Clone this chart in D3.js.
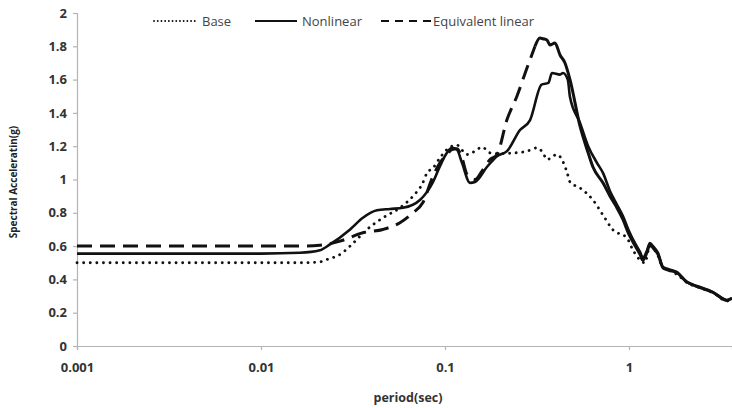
<!DOCTYPE html>
<meta charset="utf-8">
<script src="https://cdn.jsdelivr.net/npm/d3@7"></script>
<style>
  body { margin: 0; background: #fff; }
  text { font-family: "Open Sans", "Liberation Sans", sans-serif; }
</style>
<div id="chart"></div>
<script>

// period (sec) and spectral acceleration (g)
var basePeriod = [0.001, 0.005, 0.01, 0.0163, 0.0209, 0.0229, 0.0269, 0.0305, 0.0377, 0.046, 0.0569, 0.067, 0.0757, 0.0798, 0.0861, 0.0939, 0.1025, 0.116, 0.1317, 0.1456, 0.1589, 0.1757, 0.1918, 0.234, 0.279, 0.316, 0.341, 0.358, 0.406, 0.46, 0.478, 0.542, 0.637, 0.722, 0.819, 0.975, 1.05, 1.148, 1.22, 1.30, 1.44, 1.53, 1.65, 1.82, 2.07, 2.43, 2.86, 3.41, 3.63]
var baseSa = [0.5, 0.5, 0.5, 0.5, 0.505, 0.52, 0.55, 0.6, 0.7, 0.77, 0.83, 0.9, 0.979, 1.039, 1.069, 1.13, 1.18, 1.207, 1.15, 1.17, 1.195, 1.16, 1.155, 1.159, 1.17, 1.19, 1.16, 1.12, 1.15, 1.045, 0.985, 0.949, 0.877, 0.787, 0.697, 0.649, 0.577, 0.517, 0.50, 0.60, 0.54, 0.47, 0.455, 0.43, 0.38, 0.35, 0.32, 0.27, 0.285]

var nonPeriod = [0.001, 0.01, 0.0163, 0.0209, 0.0237, 0.0305, 0.0358, 0.0427, 0.0502, 0.0591, 0.0731, 0.0861, 0.0939, 0.1025, 0.109, 0.116, 0.1237, 0.1368, 0.1456, 0.169, 0.1918, 0.2173, 0.2556, 0.29, 0.335, 0.365, 0.381, 0.422, 0.438, 0.465, 0.478, 0.542, 0.60, 0.67, 0.722, 0.789, 0.85, 0.927, 1.0, 1.051, 1.148, 1.19, 1.25, 1.30, 1.35, 1.438, 1.53, 1.65, 1.824, 2.066, 2.2, 2.43, 2.86, 3.41, 3.63]
var nonSa = [0.555, 0.555, 0.56, 0.575, 0.61, 0.70, 0.77, 0.815, 0.823, 0.83, 0.877, 0.985, 1.08, 1.16, 1.19, 1.18, 1.10, 0.98, 0.985, 1.075, 1.14, 1.17, 1.297, 1.357, 1.57, 1.58, 1.64, 1.63, 1.64, 1.60, 1.495, 1.34, 1.20, 1.10, 1.04, 0.93, 0.86, 0.78, 0.69, 0.64, 0.565, 0.53, 0.57, 0.619, 0.60, 0.559, 0.474, 0.46, 0.444, 0.384, 0.37, 0.354, 0.324, 0.276, 0.288]

var eqPeriod = [0.001, 0.01, 0.0163, 0.0209, 0.0269, 0.0358, 0.046, 0.0569, 0.067, 0.0757, 0.0861, 0.0939, 0.1025, 0.109, 0.116, 0.1237, 0.1317, 0.1456, 0.1589, 0.1757, 0.1918, 0.2173, 0.246, 0.279, 0.3085, 0.328, 0.341, 0.358, 0.372, 0.396, 0.422, 0.449, 0.478, 0.542, 0.60, 0.637, 0.722, 0.789, 0.85, 0.927, 1.0, 1.051, 1.148, 1.19, 1.25, 1.30, 1.35, 1.438, 1.53, 1.65, 1.824, 2.066, 2.2, 2.43, 2.86, 3.41, 3.63]
var eqSa = [0.6, 0.6, 0.6, 0.605, 0.63, 0.68, 0.70, 0.74, 0.80, 0.86, 1.02, 1.10, 1.15, 1.18, 1.185, 1.13, 1.03, 1.00, 1.05, 1.12, 1.15, 1.36, 1.50, 1.67, 1.80, 1.85, 1.845, 1.838, 1.808, 1.82, 1.748, 1.70, 1.60, 1.32, 1.16, 1.075, 0.98, 0.90, 0.84, 0.76, 0.67, 0.625, 0.55, 0.515, 0.56, 0.61, 0.59, 0.55, 0.47, 0.455, 0.44, 0.384, 0.37, 0.35, 0.322, 0.274, 0.286]

var xTicks = [0.001, 0.01, 0.1, 1]
var yTicks = [0, 0.2, 0.4, 0.6, 0.8, 1, 1.2, 1.4, 1.6, 1.8, 2]

var width = 732, height = 408
var svg = d3.select("#chart").append("svg")
  .attr("width", width)
  .attr("height", height)

var x = d3.scaleLog().domain([0.001, 3.63]).range([77, 732])
var y = d3.scaleLinear().domain([0, 2]).range([346, 13])

function pairs(p, v) { return p.map(function(d, i){ return [d, v[i]] }) }

// axes
var yAxis = svg.append("g")
  .attr("transform", "translate(77,0)")
  .call(d3.axisLeft(y).tickValues(yTicks).tickSize(4).tickPadding(6)
    .tickFormat(function(d){ return d3.format("~g")(d) }))
var xAxis = svg.append("g")
  .attr("transform", "translate(0,346)")
  .call(d3.axisBottom(x).tickValues(xTicks).tickSize(4).tickPadding(13)
    .tickFormat(function(d){ return d3.format("~g")(d) }))

svg.selectAll(".domain, .tick line").attr("stroke", "#b4b4b4").attr("stroke-width", 1.2)
svg.selectAll(".tick text")
  .attr("font-family", "'Open Sans', 'Liberation Sans', sans-serif")
  .attr("font-size", 13)
  .attr("font-weight", "bold")
  .attr("fill", "#333")

// axis titles
svg.append("text")
  .attr("x", 408).attr("y", 402)
  .attr("text-anchor", "middle")
  .attr("font-size", 12.5).attr("font-weight", "bold").attr("fill", "#333")
  .text("period(sec)")
svg.append("text")
  .attr("transform", "translate(17,182) rotate(-90)")
  .attr("text-anchor", "middle")
  .attr("font-size", 10).attr("font-weight", "bold").attr("fill", "#222")
  .text("Spectral Acceleratin(g)")

// lines
var line = d3.line()
  .x(function(d){ return x(d[0]) })
  .y(function(d){ return y(d[1]) })
  .curve(d3.curveMonotoneX)

var plot = svg.append("g")

plot.append("path")
  .datum(pairs(basePeriod, baseSa))
  .attr("d", line)
  .attr("fill", "none").attr("stroke", "#111")
  .attr("stroke-width", 2.8)
  .attr("stroke-linecap", "round")
  .attr("stroke-dasharray", "0.1,6.5")

var eq = pairs(eqPeriod, eqSa)
plot.append("path")
  .datum(eq.filter(function(d){ return d[0] <= 0.3085 }))
  .attr("d", line)
  .attr("fill", "none").attr("stroke", "#111")
  .attr("stroke-width", 3)
  .attr("stroke-dasharray", "15,8")
plot.append("path")
  .datum(eq.filter(function(d){ return d[0] >= 0.3085 }))
  .attr("d", line)
  .attr("fill", "none").attr("stroke", "#111")
  .attr("stroke-width", 3)

plot.append("path")
  .datum(pairs(nonPeriod, nonSa))
  .attr("d", line)
  .attr("fill", "none").attr("stroke", "#111")
  .attr("stroke-width", 2.6)

// legend
var legendItems = [
  {name: "Base", x1: 154, x2: 197, tx: 202, dash: "0.1,3.6", w: 1.8, cap: "round"},
  {name: "Nonlinear", x1: 255, x2: 297, tx: 302, dash: null, w: 2, cap: "butt"},
  {name: "Equivalent linear", x1: 381, x2: 431, tx: 433, dash: "8,6", w: 2.2, cap: "butt"}
]
var legend = svg.append("g")
legendItems.forEach(function(d){
  legend.append("line")
    .attr("x1", d.x1).attr("x2", d.x2).attr("y1", 21).attr("y2", 21)
    .attr("stroke", "#111").attr("stroke-width", d.w)
    .attr("stroke-linecap", d.cap)
    .attr("stroke-dasharray", d.dash)
  legend.append("text")
    .attr("x", d.tx).attr("y", 25.5)
    .attr("font-size", 13).attr("fill", "#444")
    .text(d.name)
})

</script>
